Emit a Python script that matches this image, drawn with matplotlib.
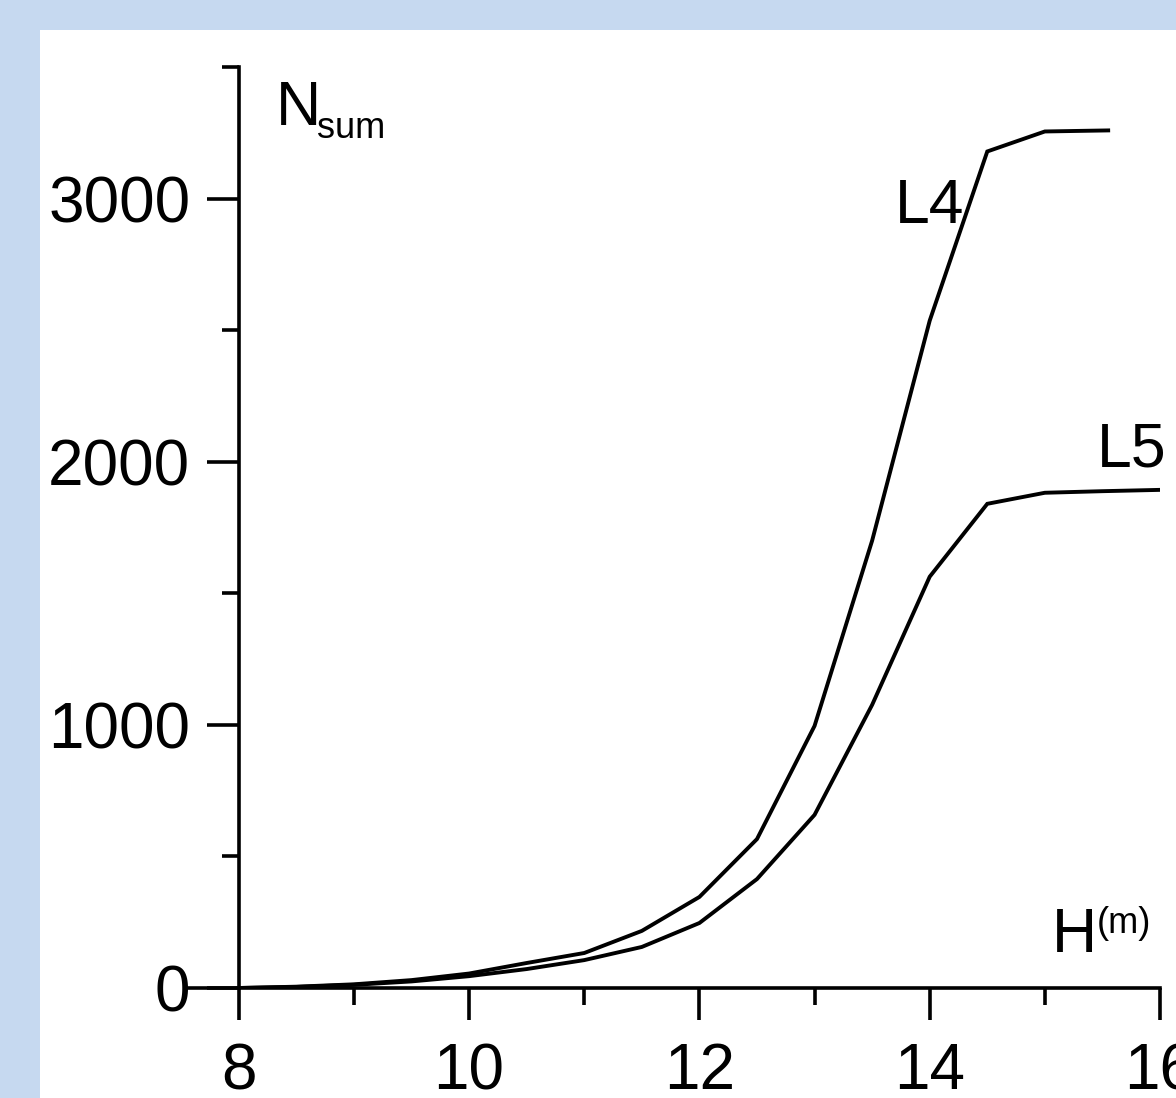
import matplotlib.pyplot as plt
from matplotlib.patches import Rectangle

# данные
h_l4 = [8, 8.5, 9, 9.5, 10, 10.5, 11, 11.5, 12, 12.5, 13, 13.5, 14, 14.5, 15, 15.55]
n_l4 = [0, 5, 14, 30, 55, 95, 133, 217, 346, 566, 996, 1700, 2536, 3179, 3255, 3259]

h_l5 = [8, 8.5, 9, 9.5, 10, 10.5, 11, 11.5, 12, 12.5, 13, 13.5, 14, 14.5, 15, 15.5, 16]
n_l5 = [0, 4, 12, 25, 45, 72, 106, 156, 247, 414, 658, 1076, 1563, 1840, 1882, 1888, 1893]

x_ticks = [8, 10, 12, 14, 16]
x_minor = [9, 11, 13, 15]
y_ticks = [0, 1000, 2000, 3000]
y_minor = [500, 1500, 2500, 3500]

plt.rcParams['font.family'] = ['Liberation Sans', 'DejaVu Sans']

fig = plt.figure(figsize=(11.76, 10.98), dpi=100)
fig.patch.set_facecolor('#c6d9f0')
fig.patches.append(Rectangle((40 / 1176, 0), 1, 1 - 30 / 1098, transform=fig.transFigure,
                             facecolor='white', edgecolor='none', zorder=-10))

ax = fig.add_axes([187 / 1176, 110 / 1098, (1160 - 187) / 1176, (988 - 67) / 1098])
ax.set_zorder(1)
ax.set_facecolor('none')

ax.plot(h_l4, n_l4, color='black', lw=2.8, solid_joinstyle='miter')
ax.plot(h_l5, n_l5, color='black', lw=2.8, solid_joinstyle='miter')

ax.set_xlim(7.55, 16)
ax.set_ylim(0, 3500)

for s in ['top', 'right']:
    ax.spines[s].set_visible(False)
ax.spines['left'].set_position(('data', 8))
ax.spines['left'].set_linewidth(2.6)
ax.spines['bottom'].set_linewidth(2.6)

ax.set_xticks(x_ticks)
ax.set_xticks(x_minor, minor=True)
ax.set_yticks(y_ticks)
ax.set_yticks(y_minor, minor=True)
ax.tick_params(axis='both', which='major', length=23, width=2.6, labelsize=46, direction='out')
ax.tick_params(axis='both', which='minor', length=12.5, width=2.6, direction='out')
ax.tick_params(axis='x', which='major', pad=16)
ax.tick_params(axis='y', which='major', pad=12)

# подписи осей и кривых
ax.text(8.32, 3281, 'N', fontsize=45, ha='left', va='baseline')
ax.text(8.68, 3232, 'sum', fontsize=26, ha='left', va='baseline')
ax.text(15.06, 137, 'H', fontsize=45, ha='left', va='baseline')
ax.text(15.45, 209, '(m)', fontsize=26, ha='left', va='baseline')
ax.text(13.70, 2909, 'L4', fontsize=45, ha='left', va='baseline')
ax.text(15.45, 1981, 'L5', fontsize=45, ha='left', va='baseline')

fig.savefig('out.png', dpi=100, facecolor=fig.get_facecolor())
